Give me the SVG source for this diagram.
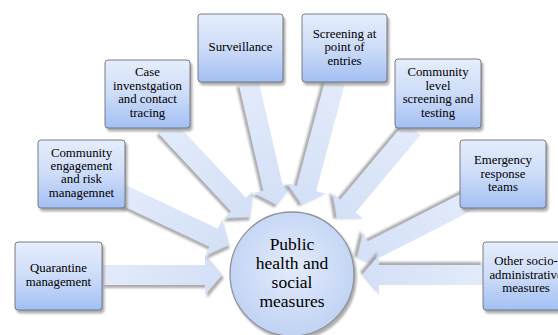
<svg xmlns="http://www.w3.org/2000/svg" width="558" height="335" viewBox="0 0 558 335">
<defs>
<linearGradient id="boxg" x1="0" y1="0" x2="0" y2="1">
<stop offset="0" stop-color="#e6eefc"/>
<stop offset="0.5" stop-color="#cddcf8"/>
<stop offset="1" stop-color="#a3bff3"/>
</linearGradient>
<radialGradient id="circg" cx="0.5" cy="0.45" r="0.6">
<stop offset="0" stop-color="#e4ecfb"/>
<stop offset="1" stop-color="#bdd0f3"/>
</radialGradient>
<linearGradient id="arrg" x1="0" y1="0" x2="1" y2="0">
<stop offset="0" stop-color="#e3ebfa"/>
<stop offset="1" stop-color="#d4e0f7"/>
</linearGradient>
<filter id="sh" x="-20%" y="-20%" width="140%" height="140%">
<feDropShadow dx="2" dy="3" stdDeviation="1.2" flood-color="#8a8a8a" flood-opacity="0.7"/>
</filter>
<style>
.box{fill:url(#boxg);stroke:#6b6f78;stroke-width:0.9;filter:url(#sh)}
.arr{fill:url(#arrg);stroke:none;filter:url(#sh)}
.t{font-size:12.8px;fill:#000;text-anchor:middle}
.ct{font-size:17.5px;fill:#000;text-anchor:middle}
</style>
</defs>
<g id="connectors">
<polygon class="arr" transform="translate(222,275) rotate(0)" points="-120,-10 -17,-10 -17,-20 0,0 -17,20 -17,10 -120,10"/>
<polygon class="arr" transform="translate(229,245) rotate(25.3)" points="-124,-10 -17,-10 -17,-20 0,0 -17,20 -17,10 -124,10"/>
<polygon class="arr" transform="translate(250,217) rotate(47)" points="-125,-10 -17,-10 -17,-20 0,0 -17,20 -17,10 -125,10"/>
<polygon class="arr" transform="translate(277,205) rotate(77)" points="-126,-10 -17,-10 -17,-20 0,0 -17,20 -17,10 -126,10"/>
<polygon class="arr" transform="translate(302,205) rotate(105)" points="-127,-10 -17,-10 -17,-20 0,0 -17,20 -17,10 -127,10"/>
<polygon class="arr" transform="translate(337,219) rotate(130)" points="-118,-10 -17,-10 -17,-20 0,0 -17,20 -17,10 -118,10"/>
<polygon class="arr" transform="translate(357,258) rotate(153)" points="-128,-10 -17,-10 -17,-20 0,0 -17,20 -17,10 -128,10"/>
<polygon class="arr" transform="translate(362,275) rotate(180)" points="-121,-10 -17,-10 -17,-20 0,0 -17,20 -17,10 -121,10"/>
</g>
<g font-family="Liberation Serif, Times New Roman, serif">
<g id="center">
<circle cx="292" cy="274" r="62" fill="url(#circg)" stroke="#8f949c" stroke-width="1.3" filter="url(#sh)"/>
<text class="ct" x="292" y="250">Public</text>
<text class="ct" x="292" y="269">health and</text>
<text class="ct" x="292" y="288">social</text>
<text class="ct" x="292" y="307">measures</text>
</g>
<g id="quarantine">
<rect class="box" x="15" y="242" width="87" height="68" rx="3"/>
<text class="t" x="58.5" y="272">Quarantine</text>
<text class="t" x="58.5" y="286">management</text>
</g>
<g id="community-engagement">
<rect class="box" x="38" y="140" width="87" height="68" rx="3"/>
<text class="t" x="81.5" y="157">Community</text>
<text class="t" x="81.5" y="170">engagement</text>
<text class="t" x="81.5" y="183">and risk</text>
<text class="t" x="81.5" y="197">managemnet</text>
</g>
<g id="case-investigation">
<rect class="box" x="105" y="60" width="85" height="68" rx="3"/>
<text class="t" x="147.5" y="76">Case</text>
<text class="t" x="147.5" y="90">invenstgation</text>
<text class="t" x="147.5" y="103">and contact</text>
<text class="t" x="147.5" y="117">tracing</text>
</g>
<g id="surveillance">
<rect class="box" x="198" y="14" width="85" height="68" rx="3"/>
<text class="t" x="240.5" y="51">Surveillance</text>
</g>
<g id="screening-entries">
<rect class="box" x="302" y="14" width="85" height="68" rx="3"/>
<text class="t" x="344.5" y="38">Screening at</text>
<text class="t" x="344.5" y="51">point of</text>
<text class="t" x="344.5" y="65">entries</text>
</g>
<g id="community-level">
<rect class="box" x="395" y="59" width="86" height="69" rx="3"/>
<text class="t" x="438" y="76">Community</text>
<text class="t" x="438" y="90">level</text>
<text class="t" x="438" y="103">screening and</text>
<text class="t" x="438" y="117">testing</text>
</g>
<g id="emergency">
<rect class="box" x="460" y="140" width="86" height="68" rx="3"/>
<text class="t" x="503" y="164">Emergency</text>
<text class="t" x="503" y="178">response</text>
<text class="t" x="503" y="191">teams</text>
</g>
<g id="other">
<rect class="box" x="483" y="242" width="86" height="68" rx="3"/>
<text class="t" x="526" y="265">Other socio-</text>
<text class="t" x="526" y="279">administrative</text>
<text class="t" x="526" y="292">measures</text>
</g>
</g>
</svg>
